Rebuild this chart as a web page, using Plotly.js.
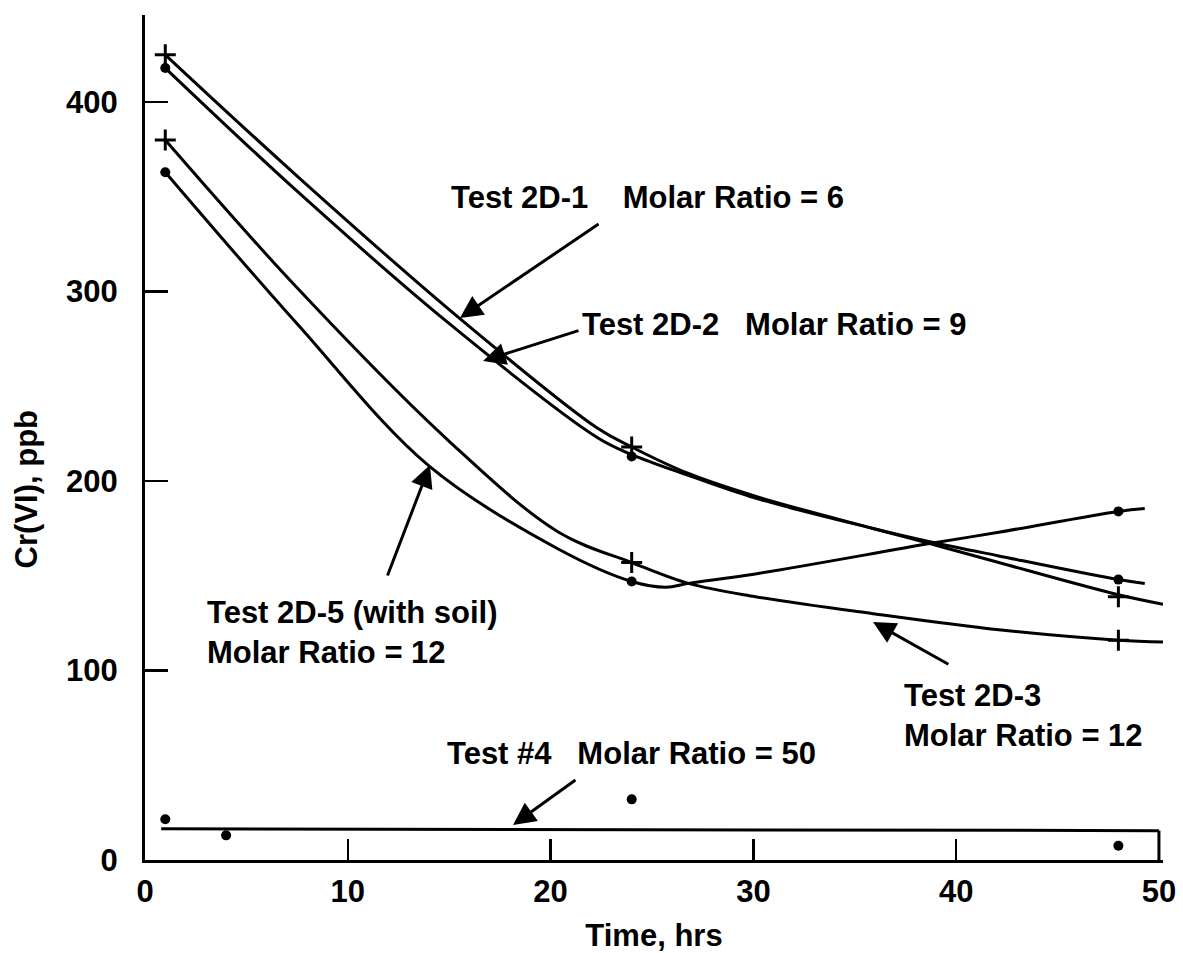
<!DOCTYPE html>
<html>
<head>
<meta charset="utf-8">
<script src="https://cdn.plot.ly/plotly-3.0.1.min.js"></script>
<style>html,body{margin:0;padding:0;background:#fff;}#chart{width:1183px;height:953px;}</style>
</head>
<body>
<div id="chart"></div>
<script>
// ---- tick values ----
const xTicks = [0, 10, 20, 30, 40, 50];
const yTicks = [0, 100, 200, 300, 400];

// ---- measured points ----
const t2D1X = [1, 24, 48];      const t2D1Y = [425, 218, 139];
const t2D2X = [1, 24, 48];      const t2D2Y = [418, 213, 148];
const t2D3X = [1, 24, 48];      const t2D3Y = [380, 157, 116];
const t2D5X = [1, 24, 48];      const t2D5Y = [363, 147, 184];
const t4X   = [1, 4, 24, 48];   const t4Y   = [21.5, 13, 32, 7.5];

// ---- hand-drawn fitted curves ----
const c2D1X = [1, 7.5, 15.5, 22.3, 24, 26.8, 30.1, 35.9, 38.7, 42.1, 48, 50.2];
const c2D1Y = [425, 361, 286, 228, 218, 204, 192, 175, 167, 157, 140, 135];
const c2D2X = [1, 7.5, 14.9, 22.3, 24, 26.8, 30.1, 35.9, 38.7, 42.1, 48, 49.3];
const c2D2Y = [418, 353, 284, 223, 214, 203, 191, 175, 168, 160.5, 148, 146];
const c2D3X = [1, 7.5, 15, 20.4, 24, 26.8, 30.1, 35.9, 42.1, 48, 50.2];
const c2D3Y = [380, 302, 221, 173, 157, 146, 139, 130, 121.5, 116, 115];
const c2D5X = [1, 7.5, 14, 20.4, 24, 25.7, 26.8, 30.1, 38.7, 42.1, 48, 49.3];
const c2D5Y = [363, 283, 208, 164, 147, 144, 146, 151, 167, 173, 184, 185.5];
const c4X = [0.8, 50];
const c4Y = [16.5, 15.5];

// ---- annotation labels ----
const NB = '\u00a0';
const labelTexts = [
  'Test 2D-1' + NB.repeat(4) + 'Molar Ratio = 6',
  'Test 2D-2' + NB.repeat(3) + 'Molar Ratio = 9',
  'Test 2D-5 (with soil)<br>Molar Ratio = 12',
  'Test 2D-3<br>Molar Ratio = 12',
  'Test #4' + NB.repeat(3) + 'Molar Ratio = 50'
];
const labelX = [15.0, 21.45, 2.96, 37.33, 14.79];
const labelY = [349.9, 282.9, 120.3, 76.5, 56.0];
const arrowTipX  = [15.53, 16.67, 14.05, 35.90, 18.15];
const arrowTipY  = [286.1, 263.4, 208.5, 125.6, 18.5];
const arrowTailX = [22.44, 21.45, 11.93, 39.69, 21.30];
const arrowTailY = [336.2, 279.7, 149.4, 102.9, 42.75];

const FONT = 'Liberation Sans, Arial, Helvetica, sans-serif';
const INK = '#000';

function curve(x, y, name) {
  return {x: x, y: y, mode: 'lines', name: name, hoverinfo: 'skip',
          line: {color: INK, width: 3, shape: 'spline', smoothing: 1}};
}
function pts(x, y, name, sym) {
  const plus = sym === 'plus';
  return {x: x, y: y, mode: 'markers', name: name,
          marker: plus ? {symbol: 'cross-thin', size: 15, color: INK, line: {color: INK, width: 3}}
                       : {symbol: 'circle', size: 10, color: INK}};
}

const traces = [
  curve(c2D1X, c2D1Y, 'Test 2D-1 curve'),
  curve(c2D2X, c2D2Y, 'Test 2D-2 curve'),
  curve(c2D3X, c2D3Y, 'Test 2D-3 curve'),
  curve(c2D5X, c2D5Y, 'Test 2D-5 curve'),
  curve(c4X, c4Y, 'Test #4 curve'),
  pts(t2D1X, t2D1Y, 'Test 2D-1', 'plus'),
  pts(t2D2X, t2D2Y, 'Test 2D-2', 'dot'),
  pts(t2D3X, t2D3Y, 'Test 2D-3', 'plus'),
  pts(t2D5X, t2D5Y, 'Test 2D-5', 'dot'),
  pts(t4X, t4Y, 'Test #4', 'dot')
];

const annotations = [];
for (let i = 0; i < labelTexts.length; i++) {
  annotations.push({
    x: labelX[i], y: labelY[i], xref: 'x', yref: 'y',
    text: labelTexts[i], showarrow: false, xanchor: 'left', yanchor: 'middle', align: 'left',
    font: {family: FONT, size: 31, color: INK, weight: 'bold'}
  });
  annotations.push({
    x: arrowTipX[i], y: arrowTipY[i], ax: arrowTailX[i], ay: arrowTailY[i],
    xref: 'x', yref: 'y', axref: 'x', ayref: 'y',
    text: '', showarrow: true, arrowhead: 2, arrowsize: 1.5, arrowwidth: 3,
    arrowcolor: INK, standoff: 0, startstandoff: 0
  });
}

const axisFont = {family: FONT, size: 31, color: INK, weight: 'bold'};
const layout = {
  width: 1183, height: 953,
  margin: {l: 145, r: 20, t: 15, b: 93},
  paper_bgcolor: '#fff', plot_bgcolor: '#fff',
  showlegend: false,
  xaxis: {
    range: [0, 50.2], tickvals: xTicks, ticktext: xTicks.map(String),
    ticks: 'inside', ticklen: 21, tickwidth: 2.5, tickcolor: INK,
    showline: true, linewidth: 3, linecolor: INK,
    showgrid: false, zeroline: false, automargin: false,
    tickfont: axisFont, ticklabelstandoff: 2,
    title: {text: 'Time, hrs', font: axisFont, standoff: 20}
  },
  yaxis: {
    range: [0, 446], tickvals: yTicks, ticktext: yTicks.map(String),
    ticks: 'inside', ticklen: 23, tickwidth: 2.5, tickcolor: INK,
    showline: true, linewidth: 3, linecolor: INK,
    showgrid: false, zeroline: false, automargin: false,
    tickfont: axisFont, ticklabelstandoff: 18,
    title: {text: 'Cr(VI), ppb' + NB.repeat(12) + '\u200b', font: axisFont, standoff: 20}
  },
  shapes: [{
    type: 'line', xref: 'x', yref: 'y',
    x0: xTicks[xTicks.length - 1], x1: xTicks[xTicks.length - 1],
    y0: 0, y1: c4Y[c4Y.length - 1], line: {color: INK, width: 3}
  }],
  annotations: annotations
};

Plotly.newPlot('chart', traces, layout, {staticPlot: true, displayModeBar: false});
</script>
</body>
</html>
